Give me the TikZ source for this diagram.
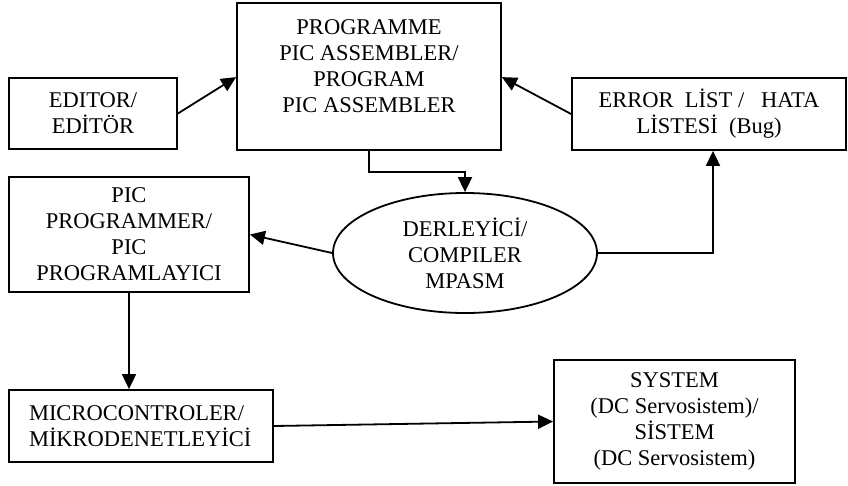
\documentclass[tikz,border=0pt]{standalone}
\usepackage{fontspec}
\setmainfont{Liberation Serif}
\usetikzlibrary{arrows.meta,shapes.geometric}
\begin{document}
\begin{tikzpicture}[x=1pt,y=-1pt,
  box/.style={draw,line width=1.8pt,rectangle,inner sep=0pt,font=\fontsize{22.5}{26}\selectfont,align=center},
  conn/.style={line width=1.8pt,-{Triangle[length=15pt,width=14pt]}},
  txt/.style={font=\fontsize{22.5}{26}\selectfont,align=center,inner sep=0pt}]
\useasboundingbox (0,0) rectangle (848,485);

\node[box,minimum width=168pt,minimum height=71pt] (editor) at (93,113.5) {EDITOR/\\EDİTÖR};
\node[box,minimum width=264pt,minimum height=147pt] (prog) at (369,76.5) {};
\node[txt,anchor=north] (progtxt) at (369,19) {PROGRAMME\\PIC ASSEMBLER/\\PROGRAM\\PIC ASSEMBLER};
\node[box,minimum width=274pt,minimum height=72pt] (errlist) at (709,114) {ERROR\ \ LİST /\ \ \ HATA\\LİSTESİ\ \ (Bug)};
\node[box,minimum width=240pt,minimum height=115pt] (picprog) at (129,234.5) {PIC\\PROGRAMMER/\\PIC\\PROGRAMLAYICI};
\node[box,ellipse,minimum width=264pt,minimum height=120pt] (comp) at (465,253) {DERLEYİCİ/\\COMPILER\\MPASM};
\node[box,align=left,inner xsep=20pt,text width=224pt,minimum height=72pt] (micro) at (141,426) {MICROCONTROLER/\\MİKRODENETLEYİCİ};
\node[box,minimum width=241pt,minimum height=123pt] (system) at (674.5,421.5) {SYSTEM\\(DC Servosistem)/\\SİSTEM\\(DC Servosistem)};

\draw[conn] (editor.east) -- (prog.west |- editor.north);
\draw[conn] (errlist.west) -- (prog.east |- errlist.north);
\draw[conn] (prog.south) -- ++(0,21) -| (comp.north);
\draw[conn] (comp.east) -| ([xshift=4pt]errlist.south);
\draw[conn] (comp.west) -- (picprog.east);
\draw[conn] (picprog.south) -- (picprog.south |- micro.north);
\draw[conn] (micro.east) -- (system.west);
\end{tikzpicture}
\end{document}
